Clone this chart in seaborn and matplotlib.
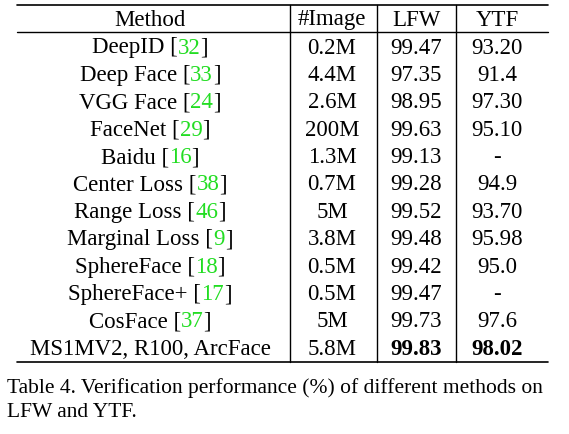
import matplotlib
matplotlib.use("Agg")
import matplotlib.pyplot as plt
import seaborn as sns

sns.set_theme(style="white")
plt.rcParams['font.family'] = ['Liberation Serif', 'DejaVu Serif']

header = ["Method", "#Image", "LFW", "YTF"]
methods = ["DeepID", "Deep Face", "VGG Face", "FaceNet", "Baidu", "Center Loss",
           "Range Loss", "Marginal Loss", "SphereFace", "SphereFace+", "CosFace",
           "MS1MV2, R100, ArcFace"]
refs = ["32", "33", "24", "29", "16", "38", "46", "9", "18", "17", "37", ""]
images = ["0.2M", "4.4M", "2.6M", "200M", "1.3M", "0.7M", "5M", "3.8M", "0.5M",
          "0.5M", "5M", "5.8M"]
lfw = ["99.47", "97.35", "98.95", "99.63", "99.13", "99.28", "99.52", "99.48",
       "99.42", "99.47", "99.73", "99.83"]
ytf = ["93.20", "91.4", "97.30", "95.10", "-", "94.9", "93.70", "95.98", "95.0",
       "-", "97.6", "98.02"]
caption = ["Table 4. Verification performance (%) of different methods on",
           "LFW and YTF."]

fig = plt.figure(figsize=(5.69, 4.35), dpi=100)
ax = fig.add_axes([0, 0, 1, 1])
ax.set_xlim(0, 569)
ax.set_ylim(435, 0)
ax.axis("off")

fs = 16.5
green = "#22dd22"
col_x = [150, 332, 416, 497]
head_y = 20
row_y0, row_dy = 48, 27.4

# rules
ax.plot([17, 548], [6, 6], color="black", lw=1.2)
ax.plot([17, 548], [33, 33], color="black", lw=1.0)
ax.plot([17, 548], [363, 363], color="black", lw=1.2)
for vx in [290, 377, 456]:
    ax.plot([vx, vx], [6, 363], color="black", lw=1.0)

for x, h in zip(col_x, header):
    ax.text(x, head_y, h, fontsize=fs, ha="center", va="center", color="black")

fig.canvas.draw()
renderer = fig.canvas.get_renderer()
inv = ax.transData.inverted()

for i in range(len(methods)):
    y = row_y0 + i * row_dy
    last = i == len(methods) - 1
    if refs[i]:
        full = ax.text(col_x[0], y, methods[i] + " [" + refs[i] + "]", fontsize=fs,
                       ha="center", va="center")
        bb = full.get_window_extent(renderer)
        full.remove()
        x0 = inv.transform((bb.x0, bb.y0))[0]
        x1 = inv.transform((bb.x1, bb.y0))[0]
        rb = ax.text(x1, y, "]", fontsize=fs, ha="right", va="center", color="black")
        w = rb.get_window_extent(renderer)
        xr = inv.transform((w.x0, w.y0))[0]
        nb = ax.text(x0, y, methods[i] + " [", fontsize=fs, ha="left", va="center", color="black")
        ax.text(xr, y, refs[i], fontsize=fs, ha="right", va="center", color=green)
    else:
        ax.text(col_x[0], y, methods[i], fontsize=fs, ha="center", va="center", color="black")
    ax.text(col_x[1], y, images[i], fontsize=fs, ha="center", va="center", color="black")
    wt = "bold" if last else "normal"
    ax.text(col_x[2], y, lfw[i], fontsize=fs, ha="center", va="center", color="black", weight=wt)
    ax.text(col_x[3], y, ytf[i], fontsize=fs, ha="center", va="center", color="black", weight=wt)

ax.text(7, 388, caption[0], fontsize=15.5, ha="left", va="center", color="black")
ax.text(7, 413, caption[1], fontsize=15.5, ha="left", va="center", color="black")

fig.savefig("out.png", dpi=100, facecolor="white")
